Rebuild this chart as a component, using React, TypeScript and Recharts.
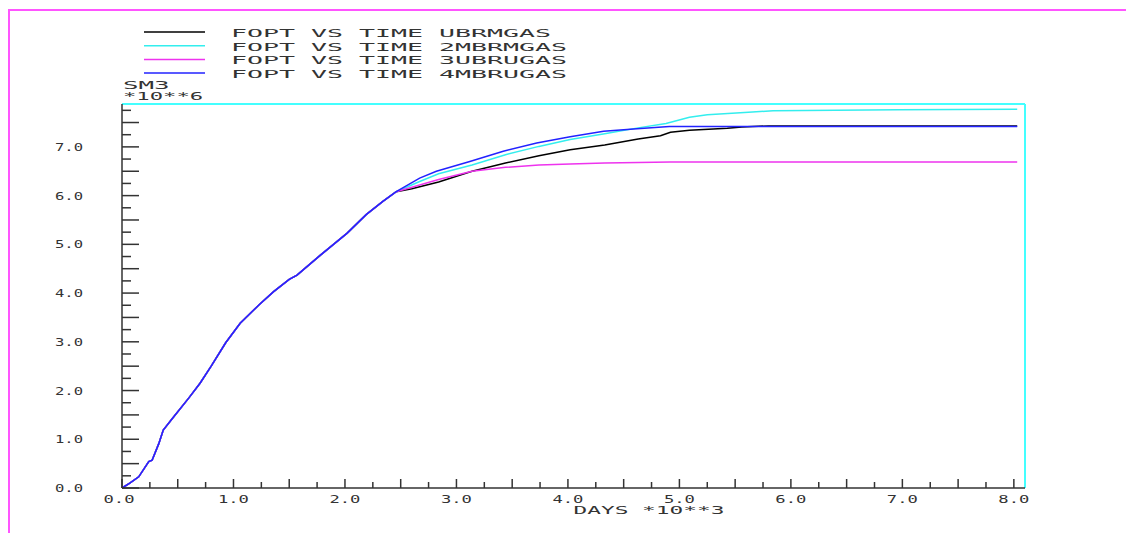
import { LineChart, Line, XAxis, YAxis, ReferenceLine, Label } from "recharts";

// shared part of the history (all four cases overlap until ~2.46e3 days)
const sharedDays = [0, 70, 150, 240, 270, 330, 370, 450, 600, 700, 800, 930, 1060, 1230, 1360, 1500, 1570, 1780, 2020, 2190, 2340, 2460];
const sharedFopt = [0, 0.1, 0.23, 0.54, 0.57, 0.91, 1.19, 1.42, 1.85, 2.15, 2.5, 2.98, 3.38, 3.76, 4.03, 4.28, 4.37, 4.78, 5.23, 5.61, 5.88, 6.08];

const ubrmgasDays = [2600, 2840, 3140, 3440, 3740, 4020, 4330, 4630, 4830, 4920, 5090, 5430, 5560, 5800, 8030];
const ubrmgasFopt = [6.14, 6.28, 6.5, 6.67, 6.82, 6.94, 7.04, 7.16, 7.23, 7.3, 7.34, 7.38, 7.41, 7.43, 7.43];

const mbrmgas2Days = [2670, 2840, 3140, 3440, 3740, 4020, 4330, 4630, 4880, 5090, 5250, 5620, 5840, 6960, 8030];
const mbrmgas2Fopt = [6.29, 6.45, 6.63, 6.84, 7.01, 7.15, 7.27, 7.39, 7.48, 7.61, 7.66, 7.71, 7.74, 7.76, 7.77];

const ubrugas3Days = [2600, 2840, 3140, 3440, 3740, 4020, 4330, 4630, 4920, 8030];
const ubrugas3Fopt = [6.17, 6.33, 6.5, 6.58, 6.63, 6.65, 6.67, 6.68, 6.69, 6.69];

const mbrugas4Days = [2670, 2820, 3120, 3420, 3720, 4020, 4320, 4620, 4910, 8030];
const mbrugas4Fopt = [6.36, 6.5, 6.7, 6.91, 7.08, 7.21, 7.32, 7.37, 7.42, 7.42];

const X_MAX = 8100;
const Y_MAX = 7.88;
const xTicks = Array.from({ length: 33 }, (_, i) => i * 250);
const yTicks = Array.from({ length: 32 }, (_, i) => i * 0.25);
const yLabels = [0, 1, 2, 3, 4, 5, 6, 7];

const W = 1126;
const H = 533;
const PLOT_TOP = 104;
const PLOT_BOTTOM = 45;
const AXIS_W = 122;

const toPoints = (days: number[], fopt: number[]) =>
  sharedDays
    .map((d, i) => ({ days: d, fopt: sharedFopt[i] }))
    .concat(days.map((d, i) => ({ days: d, fopt: fopt[i] })));

const series = [
  { name: "FOPT VS TIME UBRMGAS", color: "#000000", data: toPoints(ubrmgasDays, ubrmgasFopt) },
  { name: "FOPT VS TIME 2MBRMGAS", color: "#33eeee", data: toPoints(mbrmgas2Days, mbrmgas2Fopt) },
  { name: "FOPT VS TIME 3UBRUGAS", color: "#ee33ee", data: toPoints(ubrugas3Days, ubrugas3Fopt) },
  { name: "FOPT VS TIME 4MBRUGAS", color: "#2222ff", data: toPoints(mbrugas4Days, mbrugas4Fopt) },
];

const FONT = "'DejaVu Sans Mono', 'Liberation Mono', monospace";
const INK = "#333";

// stretched mono text, like the plotter font in the original
function Txt({ x, y, text, adv, anchor = "start" }: any) {
  const len = text.length * adv - 2;
  const left = anchor === "middle" ? x - len / 2 : anchor === "end" ? x - len : x;
  return (
    <text
      x={left}
      y={y}
      textAnchor="start"
      fontFamily={FONT}
      fontSize={11}
      fill={INK}
      textLength={len}
      lengthAdjust="spacingAndGlyphs"
    >
      {text}
    </text>
  );
}

// inward tick marks
function YTick(props: any) {
  const { x, y, payload } = props;
  const v = payload.value;
  const half = Math.abs(v * 2 - Math.round(v * 2)) < 1e-6;
  return <line x1={x} x2={x + (half ? 17 : 9)} y1={y} y2={y} stroke={INK} strokeWidth={1.5} />;
}

function XTick(props: any) {
  const { x, y, payload } = props;
  const v = payload.value;
  const half = v % 500 === 0;
  const whole = v % 1000 === 0;
  return (
    <g>
      <line x1={x} x2={x} y1={y} y2={y - (half ? 9 : 6)} stroke={INK} strokeWidth={1.5} />
      {whole && <Txt x={v === 0 ? x - 3 : x} y={y + 15} text={(v / 1000).toFixed(1)} adv={11} anchor="middle" />}
    </g>
  );
}

export default function App() {
  const plotH = H - PLOT_TOP - PLOT_BOTTOM;
  return (
    <div style={{ position: "absolute", left: 0, top: 0, width: W, height: H, background: "#fff", overflow: "hidden" }}>
      <div
        style={{
          position: "absolute",
          left: 8,
          top: 9,
          right: 0,
          bottom: 0,
          borderTop: "2px solid #ff55ff",
          borderLeft: "2px solid #ff55ff",
        }}
      />
      <div style={{ position: "absolute", left: 0, top: 0 }}>
        <LineChart width={W} height={H} margin={{ top: PLOT_TOP, right: 101, bottom: 0, left: 0 }}>
          <XAxis
            type="number"
            dataKey="days"
            domain={[0, X_MAX]}
            ticks={xTicks}
            interval={0}
            height={PLOT_BOTTOM}
            tickSize={0}
            tickMargin={0}
            tick={<XTick />}
            stroke={INK}
            strokeWidth={1.5}
          >
            <Label
              content={({ viewBox }: any) => (
                <Txt x={viewBox.x + viewBox.width / 2} y={viewBox.y + 26} text="DAYS *10**3" adv={13.9} />
              )}
            />
          </XAxis>
          <YAxis
            type="number"
            dataKey="fopt"
            domain={[0, Y_MAX]}
            ticks={yTicks}
            interval={0}
            width={AXIS_W}
            tickSize={0}
            tickMargin={0}
            tick={<YTick />}
            stroke={INK}
            strokeWidth={1.5}
          />
          <ReferenceLine y={Y_MAX} stroke="#44ffff" strokeWidth={2} />
          <ReferenceLine x={X_MAX} stroke="#44ffff" strokeWidth={2} />
          {series.map((s) => (
            <Line
              key={s.name}
              data={s.data}
              dataKey="fopt"
              name={s.name}
              type="linear"
              stroke={s.color}
              strokeWidth={1.5}
              dot={false}
              isAnimationActive={false}
            />
          ))}
        </LineChart>
      </div>
      {/* legend, unit captions and y-axis numbers */}
      <svg style={{ position: "absolute", left: 0, top: 0 }} width={620} height={H}>
        {series.map((s, i) => (
          <g key={s.name}>
            <line x1={144} x2={205} y1={32 + i * 13.7} y2={32 + i * 13.7} stroke={s.color} strokeWidth={1.5} />
            <Txt x={231} y={37 + i * 13.7} text={s.name} adv={16.1} />
          </g>
        ))}
        <Txt x={AXIS_W + 1} y={PLOT_TOP - 15} text="SM3" adv={16.2} />
        <Txt x={AXIS_W + 1} y={PLOT_TOP - 4} text="*10**6" adv={13.7} />
        {yLabels.map((v) => (
          <Txt key={v} x={AXIS_W - 39} y={PLOT_TOP + plotH * (1 - v / Y_MAX) + 4} text={v.toFixed(1)} adv={10} anchor="end" />
        ))}
      </svg>
    </div>
  );
}
